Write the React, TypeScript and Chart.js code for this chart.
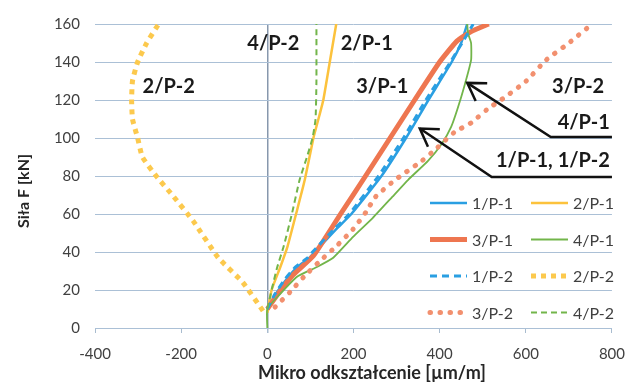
import React, { useEffect, useRef } from 'react';
import { Chart, registerables } from 'chart.js';

Chart.register(...registerables);

// ---- data (strain in µm/m on x, force in kN on y) ----
const seriesLabels = ['1/P-1', '2/P-1', '3/P-1', '4/P-1', '1/P-2', '2/P-2', '3/P-2', '4/P-2'];

const strain_1P1 = [0, 20, 46, 69, 98, 110, 160, 195, 265, 322, 374, 428, 450, 464];
const force_1P1 = [10, 18, 26, 32, 37, 40, 52, 60, 80, 100, 120, 140, 150, 160];

const strain_2P1 = [0, 10, 30, 47, 69, 87, 107, 121, 130, 145, 160];
const force_2P1 = [8, 20, 32, 43, 62, 78, 100, 112, 120, 140, 160];

const strain_3P1 = [0, 25, 60, 107, 170, 228, 285, 342, 400, 440, 473, 514];
const force_3P1 = [10, 18, 28, 38, 60, 80, 100, 120, 140, 151, 156, 160];

const strain_4P1 = [0, 0, 30, 69, 114, 153, 199, 245, 290, 327, 373, 405, 427, 441, 457, 473, 473, 466, 464];
const force_4P1 = [0, 10, 18, 27, 32, 37, 48, 58, 69, 78, 88, 97, 106, 115, 127, 141, 150, 155, 160];

const strain_1P2 = [0, 18, 42, 65, 94, 105, 155, 190, 258, 316, 368, 425, 452, 478];
const force_1P2 = [10, 18, 26, 32, 37, 40, 52, 60, 80, 100, 120, 140, 150, 160];

const strain_2P2 = [-10, -57, -114, -171, -217, -258, -290, -301, -313, -315, -313, -301, -280, -258, -252];
const force_2P2 = [9, 24, 37, 56, 69, 80, 90, 100, 110, 120, 130, 140, 150, 158, 160];

const strain_3P2 = [18, 53, 85, 121, 160, 199, 229, 251, 297, 359, 395, 434, 473, 510, 555, 601, 647, 700, 754];
const force_3P2 = [11, 19, 27, 35, 43, 52, 61, 69, 78, 88, 95, 103, 108, 115, 122, 130, 141, 150, 160];

const strain_4P2 = [0, 10, 23, 38, 57, 75, 92, 105, 112, 114, 114];
const force_4P2 = [10, 20, 32, 43, 60, 78, 90, 100, 110, 130, 160];

const xTicks = [-400, -200, 0, 200, 400, 600, 800];
const yTicks = [0, 20, 40, 60, 80, 100, 120, 140, 160];

const xTitle = 'Mikro odkształcenie [µm/m]';
const yTitle = 'Siła F [kN]';

// annotation labels: [text, x, y, align]
const annotationTexts: [string, number, number, CanvasTextAlign][] = [
  ['4/P-2', 14, 149.5, 'center'],
  ['2/P-1', 231, 149.5, 'center'],
  ['2/P-2', -229, 127, 'center'],
  ['3/P-1', 267, 127, 'center'],
  ['3/P-2', 782, 127, 'right'],
  ['4/P-1', 795, 108, 'right'],
  ['1/P-1, 1/P-2', 795, 88, 'right'],
];

// arrows: start (right end), elbow, tip — in data units
const arrowsData: number[][][] = [
  [[800, 100.5], [658, 100.5], [464, 129]],
  [[800, 79.5], [521, 79.5], [354, 105]],
];

const strains = [strain_1P1, strain_2P1, strain_3P1, strain_4P1, strain_1P2, strain_2P2, strain_3P2, strain_4P2];
const forces = [force_1P1, force_2P1, force_3P1, force_4P1, force_1P2, force_2P2, force_3P2, force_4P2];

const styles = [
  { color: '#2a9fe2', width: 2.5, dash: [] as number[], cap: 'butt' },
  { color: '#fcc23c', width: 2.5, dash: [] as number[], cap: 'butt' },
  { color: '#ee7650', width: 5, dash: [] as number[], cap: 'butt' },
  { color: '#72b54a', width: 1.8, dash: [] as number[], cap: 'butt' },
  { color: '#2a9fe2', width: 3, dash: [7, 5], cap: 'butt' },
  { color: '#fcc94d', width: 5, dash: [5, 5], cap: 'butt' },
  { color: '#f2906f', width: 5, dash: [0.5, 9.5], cap: 'round' },
  { color: '#72b54a', width: 2, dash: [6, 4], cap: 'butt' },
];

const FONT = 'Lato, "Open Sans", "DejaVu Sans", sans-serif';

const overlayPlugin = {
  id: 'overlay',
  afterDatasetsDraw(chart: any) {
    const { ctx, chartArea, scales } = chart;
    const xs = scales.x;
    const ys = scales.y;
    ctx.save();

    // arrows
    ctx.strokeStyle = '#111111';
    ctx.lineWidth = 2.5;
    ctx.lineJoin = 'miter';
    ctx.setLineDash([]);
    arrowsData.forEach((a) => {
      const pts = a.map(([x, y]) => [xs.getPixelForValue(x), ys.getPixelForValue(y)]);
      ctx.beginPath();
      ctx.moveTo(pts[0][0], pts[0][1]);
      ctx.lineTo(pts[1][0], pts[1][1]);
      ctx.lineTo(pts[2][0], pts[2][1]);
      ctx.stroke();
      const [tx, ty] = pts[2];
      const ang = Math.atan2(pts[1][1] - ty, pts[1][0] - tx);
      const L = 20;
      const da = (32 * Math.PI) / 180;
      ctx.beginPath();
      ctx.moveTo(tx + L * Math.cos(ang - da), ty + L * Math.sin(ang - da));
      ctx.lineTo(tx, ty);
      ctx.lineTo(tx + L * Math.cos(ang + da), ty + L * Math.sin(ang + da));
      ctx.stroke();
    });

    // annotation texts
    ctx.fillStyle = '#1a1a1a';
    ctx.font = `bold 20px ${FONT}`;
    ctx.textBaseline = 'middle';
    annotationTexts.forEach(([t, x, y, al]) => {
      ctx.textAlign = al;
      ctx.fillText(t, xs.getPixelForValue(x), ys.getPixelForValue(y));
    });

    // legend
    ctx.font = `16px ${FONT}`;
    ctx.textAlign = 'left';
    ctx.textBaseline = 'middle';
    chart.data.datasets.forEach((ds: any, i: number) => {
      const row = Math.floor(i / 2);
      const col = i % 2;
      const x0 = chartArea.left + (col === 0 ? 335 : 436);
      const y0 = chartArea.top + 179 + row * 36.5;
      ctx.beginPath();
      ctx.strokeStyle = ds.borderColor;
      ctx.lineWidth = ds.borderWidth;
      ctx.setLineDash(ds.borderDash || []);
      ctx.lineCap = ds.borderCapStyle || 'butt';
      ctx.moveTo(x0, y0);
      ctx.lineTo(x0 + 37, y0);
      ctx.stroke();
      ctx.setLineDash([]);
      ctx.lineCap = 'butt';
      ctx.fillStyle = '#404040';
      ctx.fillText(ds.label, x0 + 42, y0 + 1);
    });

    // axis titles
    ctx.fillStyle = '#262626';
    ctx.font = `bold 18px ${FONT}`;
    ctx.textAlign = 'center';
    ctx.textBaseline = 'middle';
    ctx.fillText(xTitle, 372, 373);
    ctx.save();
    ctx.translate(24, 191);
    ctx.rotate(-Math.PI / 2);
    ctx.font = `bold 16px ${FONT}`;
    ctx.fillText(yTitle, 0, 0);
    ctx.restore();

    ctx.restore();
  },
};

export default function App() {
  const ref = useRef<HTMLCanvasElement | null>(null);
  useEffect(() => {
    if (!ref.current) return;
    const datasets = seriesLabels.map((label, i) => ({
      label,
      data: strains[i].map((x, k) => ({ x, y: forces[i][k] })),
      showLine: true,
      borderColor: styles[i].color,
      backgroundColor: styles[i].color,
      borderWidth: styles[i].width,
      borderDash: styles[i].dash,
      borderCapStyle: styles[i].cap,
      pointRadius: 0,
      tension: 0.15,
      fill: false,
      order: 7 - i,
    }));
    const chart = new Chart(ref.current, {
      type: 'scatter',
      data: { datasets },
      options: {
        animation: false,
        responsive: false,
        layout: { padding: { top: 24, right: 16, left: 0, bottom: 0 } },
        plugins: { legend: { display: false }, tooltip: { enabled: false } },
        scales: {
          x: {
            type: 'linear',
            min: xTicks[0],
            max: xTicks[xTicks.length - 1],
            afterBuildTicks: (s: any) => {
              s.ticks = xTicks.map((v) => ({ value: v }));
            },
            afterFit: (s: any) => {
              s.height = 55;
            },
            border: { display: false },
            grid: {
              color: (c: any) => (c.tick && c.tick.value === 0 ? '#8798ad' : 'rgba(0,0,0,0)'),
              lineWidth: (c: any) => (c.tick && c.tick.value === 0 ? 1.5 : 1),
              tickColor: '#a9bccf',
              tickLength: 5,
              drawTicks: true,
            },
            ticks: {
              padding: 12,
              color: '#404040',
              font: { family: FONT, size: 15 },
              maxRotation: 0,
            },
          },
          y: {
            type: 'linear',
            min: yTicks[0],
            max: yTicks[yTicks.length - 1],
            afterBuildTicks: (s: any) => {
              s.ticks = yTicks.map((v) => ({ value: v }));
            },
            afterFit: (s: any) => {
              s.width = 95;
            },
            border: { display: false },
            grid: { color: '#abc0d6', lineWidth: 1, drawTicks: false },
            ticks: {
              padding: 15,
              color: '#404040',
              font: { family: FONT, size: 15 },
            },
          },
        },
      },
      plugins: [overlayPlugin],
    });
    return () => chart.destroy();
  }, []);
  return (
    <div style={{ position: 'absolute', left: 0, top: 0, width: 637, height: 383, background: '#fff' }}>
      <canvas ref={ref} width={637} height={383} style={{ display: 'block' }} />
    </div>
  );
}
